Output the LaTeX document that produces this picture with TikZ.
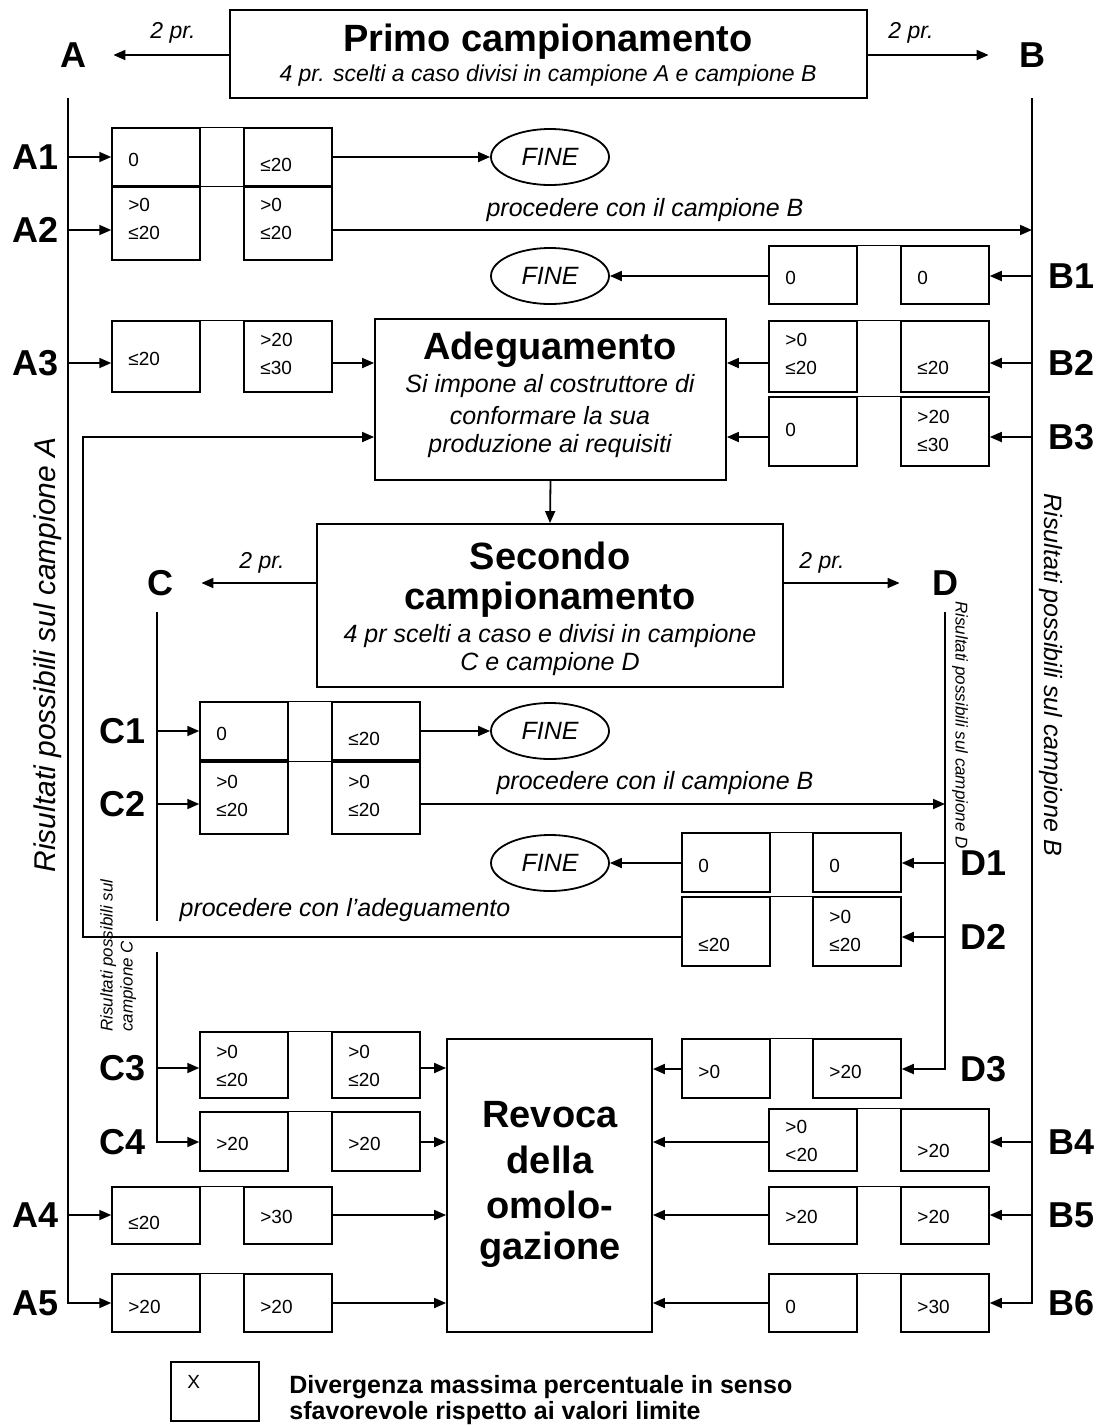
\documentclass[tikz,border=0pt]{standalone}
\usepackage{fontspec}
\setmainfont{Liberation Sans}
\usetikzlibrary{arrows.meta,shapes.geometric,fit,calc}
\tikzset{
  cell/.style={draw, line width=0.75pt, inner sep=0pt},
  cellline/.style={line width=0.75pt},
  mainline/.style={line width=0.9pt},
  arr/.style={line width=0.9pt, -{Triangle[length=6pt,width=5pt]}},
  val/.style={font=\fontsize{9.5}{14}\selectfont, anchor=west, align=left, inner sep=0pt},
  lab/.style={font=\fontsize{18}{20}\selectfont\bfseries, inner sep=0pt},
  bigbox/.style={draw, line width=0.9pt, inner sep=0pt},
  ttl/.style={font=\fontsize{19}{22}\selectfont\bfseries, inner sep=0pt},
  itx/.style={font=\fontsize{12.5}{15}\selectfont\itshape, inner sep=0pt},
  twopr/.style={font=\fontsize{11.5}{14}\selectfont\itshape, inner sep=0pt},
  fine/.style={draw, ellipse, line width=0.9pt, minimum width=59pt, minimum height=28pt, inner sep=0pt, font=\fontsize{12.5}{15}\selectfont\itshape},
}
\newcommand{\cellpair}[5]{%
  \node[cell, fit={(#2,#4)(#2+88,#5)}] (#1l) {};
  \node[cell, fit={(#3,#4)(#3+88,#5)}] (#1r) {};
  \draw[cellline] (#1l.north east) -- (#1r.north west);
}
\begin{document}
\begin{tikzpicture}[x=0.5pt,y=-0.5pt]
\useasboundingbox (0,0) rectangle (1098,1426);

% ---------- top ----------
\node[bigbox, fit={(230,10)(867,98)}] (primo) {};
\node[ttl] (primoT) at (548,42) {Primo campionamento};
\node[font=\fontsize{11.5}{14}\selectfont\itshape, inner sep=0pt] (primoS) at (548,76) {4 pr. scelti a caso divisi in campione A e campione B};
\node[lab] (A) at (73,55) {A};
\node[lab] (B) at (1032,55) {B};
\draw[arr] (primo.west |- A) -- ([xshift=13.5pt]A.east);
\draw[arr] (primo.east |- B) -- ([xshift=-15pt]B.west);
\node[twopr] (prA) at (173,33) {2 pr.};
\node[twopr] (prB) at (911,33) {2 pr.};

\coordinate (Atop) at (68,98);
\coordinate (Btop) at (1032,98);

% row labels
\node[lab] (A1) at (36,157) {A1};
\node[lab] (A2) at (36,230) {A2};
\node[lab] (A3) at (36,363) {A3};
\node[lab] (A4) at (36,1215) {A4};
\node[lab] (A5) at (36,1303) {A5};
\node[lab] (B1) at (1072,276) {B1};
\node[lab] (B2) at (1072,363) {B2};
\node[lab] (B3) at (1072,437) {B3};
\node[lab] (B4) at (1072,1142) {B4};
\node[lab] (B5) at (1072,1215) {B5};
\node[lab] (B6) at (1072,1303) {B6};
\node[lab] (C1) at (123,731) {C1};
\node[lab] (C2) at (123,804) {C2};
\node[lab] (C3) at (123,1068) {C3};
\node[lab] (C4) at (123,1142) {C4};
\node[lab] (D1) at (984,863) {D1};
\node[lab] (D2) at (984,937) {D2};
\node[lab] (D3) at (984,1069) {D3};

% ---------- cell pairs ----------
\cellpair{a1}{112}{244}{128}{186}
\cellpair{a2}{112}{244}{187}{260}
\cellpair{a3}{112}{244}{321}{392}
\cellpair{a4}{112}{244}{1187}{1244}
\cellpair{a5}{112}{244}{1274}{1332}
\cellpair{b1}{769}{901}{246}{304}
\cellpair{b2}{769}{901}{321}{392}
\cellpair{b3}{769}{901}{397}{466}
\cellpair{b4}{769}{901}{1109}{1171}
\cellpair{b5}{769}{901}{1187}{1244}
\cellpair{b6}{769}{901}{1274}{1332}
\cellpair{c1}{200}{332}{702}{760}
\cellpair{c2}{200}{332}{762}{834}
\cellpair{c3}{200}{332}{1032}{1098}
\cellpair{c4}{200}{332}{1112}{1171}
\cellpair{d1}{682}{813}{833}{892}
\cellpair{d2}{682}{813}{897}{966}
\cellpair{d3}{682}{813}{1039}{1098}

% ---------- cell texts ----------
\node[val] (ta1l) at (128,160) {0};
\node[val] (ta1r) at (260,165) {≤20};
\node[val] (ta2l) at (128,219) {>0\\≤20};
\node[val] (ta2r) at (260,219) {>0\\≤20};
\node[val] (ta3l) at (128,359) {≤20};
\node[val] (ta3r) at (260,354) {>20\\≤30};
\node[val] (ta4l) at (128,1223) {≤20};
\node[val] (ta4r) at (260,1217) {>30};
\node[val] (ta5l) at (128,1307) {>20};
\node[val] (ta5r) at (260,1307) {>20};
\node[val] (tb1l) at (785,278) {0};
\node[val] (tb1r) at (917,278) {0};
\node[val] (tb2l) at (785,354) {>0\\≤20};
\node[val] (tb2r) at (917,368) {≤20};
\node[val] (tb3l) at (785,430) {0};
\node[val] (tb3r) at (917,431) {>20\\≤30};
\node[val] (tb4l) at (785,1141) {>0\\<20};
\node[val] (tb4r) at (917,1151) {>20};
\node[val] (tb5l) at (785,1217) {>20};
\node[val] (tb5r) at (917,1217) {>20};
\node[val] (tb6l) at (785,1307) {0};
\node[val] (tb6r) at (917,1307) {>30};
\node[val] (tc1l) at (216,734) {0};
\node[val] (tc1r) at (348,739) {≤20};
\node[val] (tc2l) at (216,796) {>0\\≤20};
\node[val] (tc2r) at (348,796) {>0\\≤20};
\node[val] (tc3l) at (216,1066) {>0\\≤20};
\node[val] (tc3r) at (348,1066) {>0\\≤20};
\node[val] (tc4l) at (216,1144) {>20};
\node[val] (tc4r) at (348,1144) {>20};
\node[val] (td1l) at (698,866) {0};
\node[val] (td1r) at (829,866) {0};
\node[val] (td2l) at (698,945) {≤20};
\node[val] (td2r) at (829,931) {>0\\≤20};
\node[val] (td3l) at (698,1072) {>0};
\node[val] (td3r) at (829,1072) {>20};

% ---------- FINE ----------
\node[fine] (fine1) at (550,157) {FINE};
\node[fine] (fine2) at (550,276) {FINE};
\node[fine] (fine3) at (550,731) {FINE};
\node[fine] (fine4) at (550,863) {FINE};

% ---------- Adeguamento ----------
\node[bigbox, fit={(375,319)(726,480)}] (adeg) {};
\node[ttl] (adegT) at (550,350) {Adeguamento};
\node[itx] (adeg1) at (550,386) {Si impone al costruttore di};
\node[itx] (adeg2) at (550,416) {conformare la sua};
\node[itx] (adeg3) at (550,446) {produzione ai requisiti};

% ---------- Secondo campionamento ----------
\node[bigbox, fit={(317,524)(783,687)}] (sec) {};
\node[ttl] (secT1) at (550,556) {Secondo};
\node[ttl] (secT2) at (550,600) {campionamento};
\node[itx] (sec1) at (550,636) {4 pr scelti a caso e divisi in campione};
\node[itx] (sec2) at (550,664) {C e campione D};
\node[lab] (C) at (160,583) {C};
\node[lab] (D) at (945,583) {D};
\draw[arr] (sec.west |- C) -- ([xshift=14pt]C.east);
\draw[arr] (sec.east |- D) -- ([xshift=-16pt]D.west);
\node[twopr] (prC) at (262,563) {2 pr.};
\node[twopr] (prD) at (822,563) {2 pr.};

% ---------- Revoca ----------
\node[bigbox, fit={(447,1039)(652,1332)}] (rev) {};
\node[ttl] (rev1) at (550,1115) {Revoca};
\node[ttl] (rev2) at (550,1160) {della};
\node[ttl] (rev3) at (550,1205) {omolo-};
\node[ttl] (rev4) at (550,1250) {gazione};

% ---------- main vertical lines ----------
\draw[arr] (Atop) |- (a5l.west |- A5);
\draw[arr] (Btop) |- (b6r.east |- B6);
\coordinate (Ctop) at (157,612);
\coordinate (Cgap1) at (157,921);
\coordinate (Cgap2) at (157,952);
\draw[mainline] (Ctop) -- (Cgap1);
\draw[arr] (Cgap2) |- (c4l.west |- C4);
\coordinate (Dtop) at (945,612);
\draw[arr] (Dtop) |- (d3r.east |- D3);

% ---------- A branches ----------
\draw[arr] (Atop |- A1) -- (a1l.west |- A1);
\draw[arr] (Atop |- A2) -- (a2l.west |- A2);
\draw[arr] (Atop |- A3) -- (a3l.west |- A3);
\draw[arr] (Atop |- A4) -- (a4l.west |- A4);
\draw[arr] (a1r.east |- A1) -- (fine1.west);
\draw[arr] (a2r.east |- A2) -- (Btop |- A2);
\node[itx] (procB) at (645,210) {procedere con il campione B};
\draw[arr] (a3r.east |- A3) -- (adeg.west |- A3);
\draw[arr] (a4r.east |- A4) -- (rev.west |- A4);
\draw[arr] (a5r.east |- A5) -- (rev.west |- A5);

% ---------- B branches ----------
\draw[arr] (Btop |- B1) -- (b1r.east |- B1);
\draw[arr] (Btop |- B2) -- (b2r.east |- B2);
\draw[arr] (Btop |- B3) -- (b3r.east |- B3);
\draw[arr] (Btop |- B4) -- (b4r.east |- B4);
\draw[arr] (Btop |- B5) -- (b5r.east |- B5);
\draw[arr] (b1l.west |- B1) -- (fine2.east);
\draw[arr] (b2l.west |- B2) -- (adeg.east |- B2);
\draw[arr] (b3l.west |- B3) -- (adeg.east |- B3);
\draw[arr] (b4l.west |- B4) -- (rev.east |- B4);
\draw[arr] (b5l.west |- B5) -- (rev.east |- B5);
\draw[arr] (b6l.west |- B6) -- (rev.east |- B6);

% ---------- C branches ----------
\draw[arr] (Ctop |- C1) -- (c1l.west |- C1);
\draw[arr] (Ctop |- C2) -- (c2l.west |- C2);
\draw[arr] (Ctop |- C3) -- (c3l.west |- C3);
\draw[arr] (c1r.east |- C1) -- (fine3.west);
\draw[arr] (c2r.east |- C2) -- (Dtop |- C2);
\node[itx] (procB2) at (655,783) {procedere con il campione B};
\draw[arr] (c3r.east |- C3) -- (rev.west |- C3);
\draw[arr] (c4r.east |- C4) -- (rev.west |- C4);

% ---------- D branches ----------
\draw[arr] (Dtop |- D1) -- (d1r.east |- D1);
\draw[arr] (Dtop |- D2) -- (d2r.east |- D2);
\draw[arr] (d1l.west |- D1) -- (fine4.east);
\draw[arr] (d3l.west |- D3) -- (rev.east |- D3);

% ---------- loop to Adeguamento ----------
\coordinate (loopc) at (83,437);
\draw[arr] (d2l.west |- D2) -| (loopc) -- (adeg.west |- loopc);
\node[itx] (procAd) at (345,910) {procedere con l’adeguamento};

% ---------- adeg -> secondo ----------
\draw[arr] (adeg.south) -- (sec.north);

% ---------- rotated captions ----------
\node[rotate=90, font=\fontsize{15}{18}\selectfont\itshape, inner sep=0pt] (rotA) at (48,655) {Risultati possibili sul campione A};
\node[rotate=-90, font=\fontsize{12.5}{15}\selectfont\itshape, inner sep=0pt] (rotB) at (1051,675) {Risultati possibili sul campione B};
\node[rotate=-90, font=\fontsize{8.5}{10}\selectfont\itshape, inner sep=0pt] (rotD) at (960,725) {Risultati possibili sul campione D};
\node[rotate=90, anchor=north west, align=left, font=\fontsize{8.5}{10}\selectfont\itshape, inner sep=0pt] (rotC) at (100,1032) {Risultati possibili sul\\campione C};

% ---------- legend ----------
\node[cell, fit={(171,1362)(259,1421)}] (leg) {};
\node[val] (legX) at (187,1382) {X};
\node[font=\fontsize{12.5}{13}\selectfont\bfseries, anchor=west, align=left, inner sep=0pt] (legT) at (289,1400) {Divergenza massima percentuale in senso\\sfavorevole rispetto ai valori limite};
\end{tikzpicture}
\end{document}
